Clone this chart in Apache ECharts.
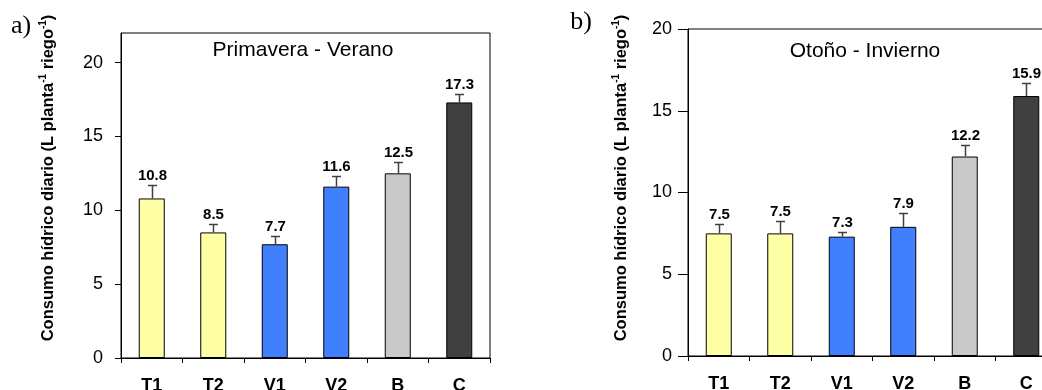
<!DOCTYPE html>
<html>
<head>
<meta charset="utf-8">
<script src="https://cdn.jsdelivr.net/npm/echarts@6/dist/echarts.min.js"></script>
<style>
html,body{margin:0;padding:0;background:#fff;}
#c{width:1042px;height:390px;}
</style>
</head>
<body>
<div id="c"></div>
<script>
const categories = ['T1', 'T2', 'V1', 'V2', 'B', 'C'];
const springValues = [10.8, 8.5, 7.7, 11.6, 12.5, 17.3];
const springErrors = [0.9, 0.6, 0.55, 0.75, 0.75, 0.55];
const autumnValues = [7.5, 7.5, 7.3, 7.9, 12.2, 15.9];
const autumnErrors = [0.6, 0.75, 0.28, 0.85, 0.7, 0.8];
const barColors = ['#FFFFA6', '#FFFFA6', '#4080FF', '#4080FF', '#C9C9C9', '#404040'];
const yTicks = [0, 5, 10, 15, 20];
const panelTitles = ['Primavera - Verano', 'Otoño - Invierno'];
const panelLetters = ['a)', 'b)'];

const FONT = 'Liberation Sans, Arial, sans-serif';

function barData(vals) {
  return vals.map((v, i) => ({ value: v, itemStyle: { color: barColors[i] } }));
}
function errData(vals, errs) {
  return vals.map((v, i) => [i, v, errs[i]]);
}
function errRender(params, api) {
  const idx = api.value(0), v = api.value(1), e = api.value(2);
  const base = api.coord([idx, v]);
  const top = api.coord([idx, v + e]);
  const x = Math.round(base[0]) + 0.5;
  const yb = base[1], yt = Math.round(top[1]) + 0.5;
  const st = { stroke: '#404040', lineWidth: 1.5 };
  return {
    type: 'group',
    children: [
      { type: 'line', shape: { x1: x, y1: yb, x2: x, y2: yt }, style: st },
      { type: 'line', shape: { x1: x - 4.5, y1: yt, x2: x + 4.5, y2: yt }, style: st },
      { type: 'text', x: x, y: yt - 2, style: { text: v.toFixed(1), fontFamily: FONT, fontWeight: 'bold', fontSize: 15, fill: '#000', align: 'center', verticalAlign: 'bottom' } }
    ]
  };
}

function xAxisCfg(gi) {
  return {
    gridIndex: gi, type: 'category', data: categories,
    axisLine: { lineStyle: { color: '#000', width: 1 } },
    axisTick: { show: true, length: 5, inside: false, alignWithLabel: false, lineStyle: { color: '#000' } },
    axisLabel: { color: '#000', fontFamily: FONT, fontWeight: 'bold', fontSize: 18, margin: 19 },
    splitLine: { show: false }
  };
}
function yAxisCfg(gi, max, tickLen, margin) {
  return {
    gridIndex: gi, type: 'value', min: 0, max: max, interval: 5,
    axisLine: { show: true, lineStyle: { color: '#000', width: 1 } },
    axisTick: { show: true, length: tickLen, inside: false, customValues: yTicks, lineStyle: { color: '#000' } },
    axisLabel: { color: '#000', fontFamily: FONT, fontSize: 18, margin: margin, customValues: yTicks },
    splitLine: { show: false }
  };
}

const yName = '{m|Consumo hídrico diario (L planta}{sup|-1}{m| riego}{sup|-1}{m|)}';
function yNameText(x, y) {
  return {
    type: 'text', x: x, y: y, rotation: Math.PI / 2,
    style: {
      text: yName, fontFamily: FONT, fontWeight: 'bold', fontSize: 16.5, fill: '#000',
      align: 'center', verticalAlign: 'middle',
      rich: {
        m: { fontFamily: FONT, fontWeight: 'bold', fontSize: 16.5, lineHeight: 20, fill: '#000' },
        sup: { fontFamily: FONT, fontWeight: 'bold', fontSize: 10, lineHeight: 9, verticalAlign: 'top', fill: '#000' }
      }
    }
  };
}

const chart = echarts.init(document.getElementById('c'), null, { renderer: 'canvas' });
chart.setOption({
  animation: false,
  backgroundColor: '#fff',
  grid: [
    { left: 121, top: 33, width: 369, height: 325, outerBoundsMode: 'none', containLabel: false, show: true, borderColor: '#000', borderWidth: 1, backgroundColor: 'transparent' },
    { left: 688, top: 29, width: 369, height: 327, outerBoundsMode: 'none', containLabel: false, show: true, borderColor: '#000', borderWidth: 1, backgroundColor: 'transparent' }
  ],
  xAxis: [xAxisCfg(0), xAxisCfg(1)],
  yAxis: [yAxisCfg(0, 22, 6, 18), yAxisCfg(1, 20, 10, 16)],
  series: [
    { type: 'bar', xAxisIndex: 0, yAxisIndex: 0, barWidth: 26, data: barData(springValues),
      itemStyle: { borderColor: '#000', borderWidth: 1 } },
    { type: 'custom', xAxisIndex: 0, yAxisIndex: 0, renderItem: errRender, data: errData(springValues, springErrors), z: 5 },
    { type: 'bar', xAxisIndex: 1, yAxisIndex: 1, barWidth: 26, data: barData(autumnValues),
      itemStyle: { borderColor: '#000', borderWidth: 1 } },
    { type: 'custom', xAxisIndex: 1, yAxisIndex: 1, renderItem: errRender, data: errData(autumnValues, autumnErrors), z: 5 }
  ],
  graphic: [
    yNameText(48, 178),
    yNameText(621, 178),
    { type: 'text', x: 303, y: 50, style: { text: panelTitles[0], fontFamily: FONT, fontSize: 21, fill: '#000', align: 'center', verticalAlign: 'middle' } },
    { type: 'text', x: 865, y: 51, style: { text: panelTitles[1], fontFamily: FONT, fontSize: 21, fill: '#000', align: 'center', verticalAlign: 'middle' } },
    { type: 'text', x: 21, y: 26, style: { text: panelLetters[0], fontFamily: 'Liberation Serif, Times New Roman, serif', fontSize: 26, fill: '#000', align: 'center', verticalAlign: 'middle' } },
    { type: 'text', x: 581, y: 22, style: { text: panelLetters[1], fontFamily: 'Liberation Serif, Times New Roman, serif', fontSize: 26, fill: '#000', align: 'center', verticalAlign: 'middle' } }
  ]
});
</script>
</body>
</html>
